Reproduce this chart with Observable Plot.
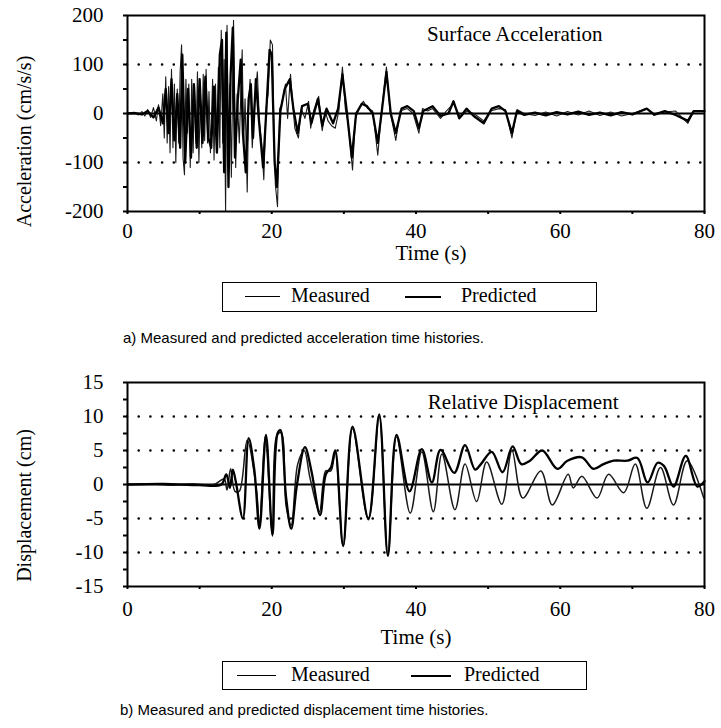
<!DOCTYPE html>
<html><head><meta charset="utf-8">
<script src="https://cdn.jsdelivr.net/npm/d3@7"></script>
<script src="https://cdn.jsdelivr.net/npm/@observablehq/plot@0.6"></script>
<style>
body{margin:0;background:#fff;}
#wrap{position:relative;width:721px;height:728px;font-family:"Liberation Serif",serif;color:#000;}
#wrap svg{position:absolute;left:0;}
#wrap svg text{font-family:"Liberation Serif",serif !important;}
.legend{position:absolute;border:1.6px solid #000;box-sizing:border-box;font-size:20px;}
.legend span{position:absolute;white-space:nowrap;}
.legend i{position:absolute;background:#000;display:block;}
.caption{position:absolute;font-family:"Liberation Sans",Arial,sans-serif;font-size:15px;white-space:nowrap;}
</style></head><body><div id="wrap"></div>
<script>
// ---------- data ----------
const timeTicks = [0,10,20,30,40,50,60,70,80];
const accTicks = [-200,-150,-100,-50,0,50,100,150,200];
const accGrid = [-100,100];
const dispTicks = [-15,-12.5,-10,-7.5,-5,-2.5,0,2.5,5,7.5,10,12.5,15];
const dispGrid = [-10,-5,5,10];
const seriesNames = ["Measured","Predicted"];

// Surface acceleration (cm/s/s): [time s, value]
const accMeasured = [[0,0],[1,2],[1.5,-3],[2,4],[2.4,-5],[2.8,8],[3.2,-8],[3.6,12],[4.0,-15],[4.3,18],[4.6,-25],[4.9,40],[5.1,-50],[5.3,75],[5.5,-60],[5.7,55],[5.9,-80],[6.1,90],[6.3,-70],[6.5,60],[6.7,-100],[6.9,50],[7.1,-60],[7.3,85],[7.5,140],[7.7,-90],[7.9,-125],[8.1,70],[8.3,-40],[8.5,60],[8.7,-110],[8.9,70],[9.1,-80],[9.3,55],[9.5,-60],[9.7,85],[9.9,-100],[10.1,40],[10.3,-70],[10.5,80],[10.7,-55],[10.9,90],[11.1,-60],[11.3,45],[11.5,-80],[11.8,70],[12.0,-95],[12.2,60],[12.4,-50],[12.6,95],[12.8,-70],[13.0,170],[13.2,-60],[13.4,110],[13.6,-200],[13.8,180],[14.0,-90],[14.2,60],[14.4,-130],[14.7,190],[15.0,-110],[15.2,40],[15.5,-60],[15.9,130],[16.1,-60],[16.3,30],[16.6,-160],[16.8,20],[17.0,70],[17.3,-70],[17.6,20],[18.0,85],[18.3,-20],[18.6,-60],[18.9,-135],[19.2,10],[19.5,40],[19.8,150],[20.1,140],[20.3,-40],[20.5,-145],[20.8,-190],[21.1,10],[21.4,20],[21.9,60],[22.2,-10],[22.6,80],[22.9,20],[23.2,-30],[23.7,-50],[24.1,10],[24.6,-10],[25.1,25],[25.4,-30],[25.8,5],[26.5,35],[27.0,-35],[27.4,5],[27.8,-15],[28.3,-25],[28.8,-30],[29.3,5],[29.8,95],[30.2,10],[30.6,-20],[31.2,-115],[31.6,-10],[32.0,5],[32.7,25],[33.3,10],[34.0,5],[34.7,-85],[35.2,0],[35.9,95],[36.4,5],[37.2,-55],[37.8,5],[38.8,10],[39.6,0],[40.4,-40],[40.9,10],[41.6,5],[42.3,10],[43.4,-10],[44.2,5],[45.2,20],[46.2,-8],[47,5],[48,0],[49.4,-15],[50.3,5],[51.5,10],[52.4,8],[53.3,-50],[54.0,8],[55,0],[56.5,-4],[58,3],[59.5,-5],[61,4],[62.5,-3],[64,5],[65.5,-4],[67,3],[68.5,-5],[70,0],[72,10],[73,-4],[74.5,3],[76,5],[77.7,-20],[78.5,5],[80,6]];
const accPredicted = [[0,0],[1,1],[2,-2],[2.8,5],[3.6,-8],[4.3,12],[4.9,-20],[5.3,50],[5.7,-40],[6.1,70],[6.5,-55],[6.9,40],[7.3,-70],[7.6,120],[8.0,-100],[8.4,50],[8.8,-90],[9.2,60],[9.6,-70],[10.0,70],[10.4,-60],[10.8,75],[11.2,-50],[11.6,-70],[12.0,55],[12.4,-80],[12.8,120],[13.1,150],[13.4,-120],[13.7,165],[14.0,-150],[14.3,80],[14.6,175],[14.9,-90],[15.3,30],[15.7,110],[16.0,-40],[16.4,-120],[16.8,30],[17.1,60],[17.4,-50],[17.8,70],[18.2,-10],[18.8,-110],[19.3,20],[19.7,130],[20.0,120],[20.4,-100],[20.7,-150],[21.2,5],[21.8,50],[22.5,70],[23.0,10],[23.6,-40],[24.2,15],[25.0,20],[25.5,-20],[26.4,30],[27.0,-25],[27.6,10],[28.5,-20],[29.2,10],[29.8,80],[30.4,5],[31.1,-90],[31.7,0],[32.5,20],[33.2,15],[34.0,0],[34.7,-60],[35.3,10],[35.9,85],[36.5,0],[37.2,-40],[38,10],[38.8,15],[39.7,5],[40.4,-30],[41,5],[42.3,15],[43.4,-5],[44.5,0],[45.2,25],[46,-10],[47,10],[48,-5],[49.4,-20],[50.5,10],[51.5,15],[52.4,5],[53.3,-40],[54,5],[55,-3],[56.5,2],[58,-4],[59.5,3],[61,-2],[62.5,4],[64,-3],[65.5,2],[67,-4],[68.5,3],[70,-2],[72,10],[73,-2],[74.5,5],[76,-3],[77.7,-15],[78.5,5],[80,5]];

// Relative displacement (cm): [time s, value]
const dispMeasured = [[0,0],[3,0.1],[6,-0.1],[9,0.1],[12,0],[13.4,0.8],[13.8,-0.8],[14.3,2.3],[14.9,-1],[15.5,-1],[16.6,6.5],[17.9,-1],[18.3,-6],[19.1,7.1],[20.1,-7.6],[20.7,7.2],[21.3,7.6],[22.0,-3.2],[22.7,-6],[23.6,3],[24.5,5],[25.3,1],[26.6,-4],[27.5,2],[28.2,2],[28.8,4.8],[29.9,-9.1],[31.2,8.2],[33.4,-5.2],[34.9,10],[36.1,-10.3],[37.3,7],[39.2,-4.2],[40.8,4.8],[42.4,-4],[43.6,4.5],[45.4,-3.7],[46.8,3],[48.4,-2.5],[49.8,3.3],[51.9,-2.9],[53.3,5],[54.8,-2],[57.3,2],[58.9,-3],[61.1,1.5],[61.8,-0.5],[63,1.2],[65.1,-2],[66.7,1.5],[68.8,-1.2],[70.4,3],[72,-3.5],[73.9,2.5],[75.7,-3],[77.6,3.5],[79.9,-2]];
const dispPredicted = [[0,0],[5,0.1],[10,-0.1],[13,0],[13.7,1.5],[14.2,-0.5],[14.6,2.2],[15.0,0.5],[16.0,-5],[16.8,6.8],[17.6,2],[18.3,-6.5],[19.2,7.3],[20.1,-7.4],[20.8,7.5],[21.2,8],[22.0,-2],[22.7,-6.5],[23.5,0],[24.6,5.5],[25.5,2],[26.7,-4.5],[27.5,1.5],[28.2,2.5],[28.8,5],[29.9,-9],[31.2,8.5],[33.4,-5],[34.9,10.3],[36.1,-10.5],[37.3,7.3],[39.1,-1],[40.8,5.2],[42.2,0.3],[43.4,5.1],[45.3,1.7],[46.8,5.8],[48.2,2.2],[49,3],[50.5,4.8],[52,1.8],[53.4,5.6],[54.6,3],[55.8,3.5],[57.5,5],[59.6,2.3],[61,3.5],[63,4],[64.6,2.3],[66,3],[67.4,3.5],[69.3,3.5],[70.7,3.9],[72.1,0.3],[73.5,3.2],[74.4,2.7],[75.7,-0.3],[77.4,4.2],[79,-0.3],[80,0.5]];

// ---------- drawing ----------
const wrap = document.getElementById("wrap");
const SERIF = "Liberation Serif";

function panel(o) {
  const svg = Plot.plot({
    width: 721, height: o.height,
    marginLeft: 127, marginRight: 17, marginTop: o.marginTop, marginBottom: o.marginBottom,
    x: {domain: [0, 80]},
    y: {domain: o.yDomain},
    style: {fontFamily: SERIF, fontSize: "20px", color: "#000", background: "#fff", overflow: "visible"},
    marks: [
      Plot.ruleY(o.grid, {stroke: "#000", strokeWidth: 2.6, strokeDasharray: "0,11.7", strokeLinecap: "round"}),
      Plot.ruleY([0], {stroke: "#000", strokeWidth: 1.8}),
      Plot.line(o.measured, {x: d => d[0], y: d => d[1], stroke: "#1a1a1a", strokeWidth: o.measuredWidth, curve: o.curve}),
      Plot.line(o.predicted, {x: d => d[0], y: d => d[1], stroke: "#000", strokeWidth: 2.3, curve: o.curve}),
      Plot.frame({stroke: "#000", strokeWidth: 2}),
      Plot.axisY({ticks: o.yTicks, tickSize: 4, tickPadding: 20, strokeWidth: 2, fontFamily: SERIF,
        tickFormat: d => (d % o.labelStep === 0 ? String(d) : ""), label: null, fontSize: 21}),
      Plot.axisX({ticks: timeTicks, tickSize: 3, tickPadding: o.xPad, strokeWidth: 2, fontFamily: SERIF,
        tickFormat: d => (d % 20 === 0 ? String(d) : ""), label: null, fontSize: 21}),
      Plot.text([o.title], {frameAnchor: "top-right", textAnchor: "end", lineAnchor: "middle", dx: o.titleDx, dy: o.titleDy, fontSize: 21, fontFamily: SERIF}),
      Plot.text(["Time (s)"], {frameAnchor: "bottom", textAnchor: "middle", lineAnchor: "middle", dx: o.timeDx, dy: o.timeDy, fontSize: 21, fontFamily: SERIF}),
      Plot.text([o.yLabel], {frameAnchor: "left", textAnchor: "middle", lineAnchor: "middle", dx: -103, dy: o.yLabelDy, rotate: -90, fontSize: 20, fontFamily: SERIF})
    ]
  });
  svg.style.top = o.top + "px";
  wrap.appendChild(svg);
}

panel({top: 0, height: 265, marginTop: 15, marginBottom: 54, yDomain: [-200, 200], yTicks: accTicks, labelStep: 100,
  grid: accGrid, measured: accMeasured, predicted: accPredicted, curve: "linear", xPad: 9, measuredWidth: 1.1,
  title: "Surface Acceleration", titleDx: -102, titleDy: 19, timeDx: 15, timeDy: 42,
  yLabel: "Acceleration (cm/s/s)", yLabelDy: 28});

panel({top: 360, height: 290, marginTop: 22, marginBottom: 64, yDomain: [-15, 15], yTicks: dispTicks, labelStep: 5,
  grid: dispGrid, measured: dispMeasured, predicted: dispPredicted, curve: "catmull-rom", xPad: 12, measuredWidth: 1.5,
  title: "Relative Displacement", titleDx: -86, titleDy: 20, timeDx: 0, timeDy: 51,
  yLabel: "Displacement (cm)", yLabelDy: 21});

function legend(left, top, width, height, pos) {
  const box = document.createElement("div");
  box.className = "legend";
  Object.assign(box.style, {left: left + "px", top: top + "px", width: width + "px", height: height + "px"});
  const widths = [1, 2];
  seriesNames.forEach((name, i) => {
    const line = document.createElement("i");
    Object.assign(line.style, {left: pos[i][0] + "px", width: pos[i][1] + "px", top: Math.round(height / 2 - 2) + "px", height: widths[i] + "px"});
    box.appendChild(line);
    const t = document.createElement("span");
    t.textContent = name;
    Object.assign(t.style, {left: pos[i][2] + "px", top: (height / 2 - 14) + "px"});
    box.appendChild(t);
  });
  wrap.appendChild(box);
}
function caption(text, left, top) {
  const c = document.createElement("div");
  c.className = "caption";
  c.textContent = text;
  Object.assign(c.style, {left: left + "px", top: top + "px"});
  wrap.appendChild(c);
}

legend(222, 282, 375, 30, [[22, 35, 68], [182, 36, 238]]);
caption("a) Measured and predicted acceleration time histories.", 123, 329);
legend(222, 661, 365, 29, [[14, 39, 68], [188, 40, 241]]);
caption("b) Measured and predicted displacement time histories.", 120, 701);
</script></body></html>
